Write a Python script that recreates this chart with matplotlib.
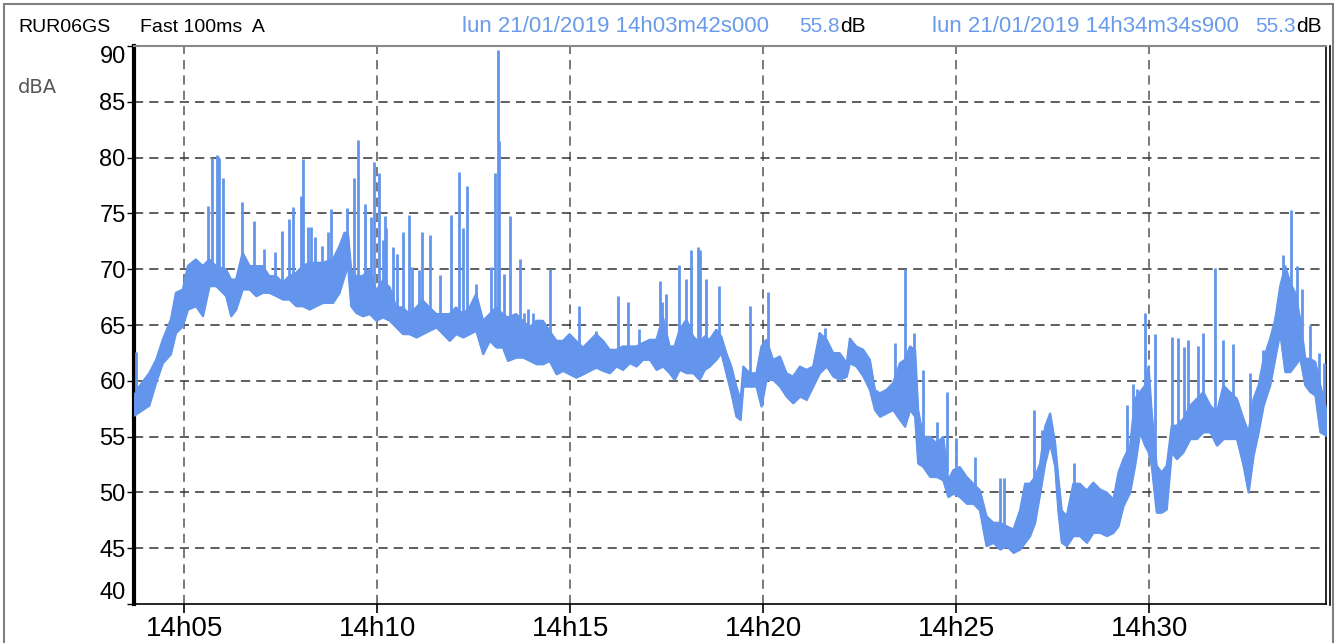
import numpy as np
import matplotlib
matplotlib.use("Agg")
import matplotlib.pyplot as plt
from matplotlib.lines import Line2D
from matplotlib.patches import Rectangle

# ---- data (minutes after 14h00, dBA) ----
t_env = [3.70, 3.83, 4.09, 4.27, 4.44, 4.65, 4.78, 4.96, 5.09, 5.30, 5.48, 5.65, 5.82, 6.08, 6.21, 6.34,
         6.51, 6.69, 6.86, 7.03, 7.20, 7.38, 7.55, 7.72, 7.90, 8.07, 8.24, 8.41, 8.59, 8.85, 9.02, 9.15,
         9.24, 9.32, 9.45, 9.62, 9.80, 9.97, 10.14, 10.32, 10.49, 10.66, 10.83, 11.01, 11.18, 11.35, 11.53,
         11.70, 11.87, 12.04, 12.22, 12.39, 12.56, 12.74, 12.91, 13.08, 13.25, 13.38, 13.60, 13.77, 13.95,
         14.12, 14.29, 14.46, 14.64, 14.81, 14.98, 15.15, 15.33, 15.50, 15.67, 15.85, 16.02, 16.19, 16.36,
         16.54, 16.71, 16.88, 17.06, 17.23, 17.40, 17.57, 17.70, 17.83, 18.01, 18.18, 18.35, 18.48, 18.61,
         18.78, 18.91, 19.04, 19.17, 19.30, 19.41, 19.48, 19.65, 19.82, 19.95, 20.08, 20.25, 20.43, 20.60,
         20.77, 20.95, 21.12, 21.29, 21.46, 21.64, 21.81, 21.98, 22.16, 22.24, 22.41, 22.59, 22.76, 22.89,
         23.02, 23.19, 23.36, 23.54, 23.67, 23.80, 23.93, 24.01, 24.14, 24.32, 24.49, 24.66, 24.79, 24.92,
         25.09, 25.27, 25.44, 25.61, 25.78, 25.96, 26.13, 26.30, 26.48, 26.65, 26.78, 26.91, 27.04, 27.17,
         27.30, 27.43, 27.56, 27.64, 27.73, 27.86, 28.03, 28.20, 28.38, 28.55, 28.72, 28.90, 29.07, 29.20,
         29.33, 29.50, 29.63, 29.76, 29.89, 29.98, 30.06, 30.19, 30.32, 30.45, 30.58, 30.71, 30.88, 31.06,
         31.23, 31.40, 31.58, 31.75, 31.92, 32.09, 32.27, 32.44, 32.57, 32.70, 32.83, 32.96, 33.13, 33.26,
         33.39, 33.52, 33.65, 33.78, 33.91, 34.04, 34.17, 34.30, 34.43, 34.58]
lo_env = [56.9, 57.2, 57.8, 59.9, 61.6, 62.4, 64.3, 64.9, 66.4, 66.7, 65.8, 68.5, 68.5, 67.6, 65.8, 66.4,
          68.2, 68.2, 67.6, 67.9, 67.9, 67.6, 67.3, 67.3, 66.7, 66.7, 66.4, 66.7, 67.0, 67.0, 67.9, 69.4,
          70.3, 66.7, 66.1, 65.8, 66.0, 65.4, 65.7, 65.4, 64.8, 64.2, 64.2, 63.9, 64.2, 64.5, 64.8,
          64.2, 63.6, 64.2, 63.9, 64.2, 64.5, 62.4, 63.6, 63.0, 63.0, 61.8, 62.1, 62.1, 61.8,
          61.5, 61.5, 61.8, 60.6, 60.9, 60.6, 60.3, 60.6, 60.9, 61.2, 60.9, 60.7, 61.3, 61.0,
          61.6, 61.3, 61.9, 61.9, 61.0, 61.3, 60.7, 60.1, 61.0, 60.7, 60.7, 60.1, 61.0, 61.3,
          61.9, 62.5, 60.7, 58.9, 56.8, 56.5, 59.5, 59.5, 59.5, 57.7, 60.1, 60.1, 59.5, 58.6,
          58.0, 58.6, 58.3, 59.5, 60.7, 61.3, 60.4, 60.1, 60.4, 61.6, 61.3, 60.4, 59.2, 57.4,
          56.8, 57.1, 57.4, 56.5, 55.9, 57.4, 56.8, 52.6, 52.3, 51.4, 51.4, 51.1, 49.6, 49.9,
          49.6, 49.0, 49.0, 48.4, 45.2, 45.5, 44.9, 45.2, 44.6, 44.9, 45.5, 46.1, 47.3, 49.9,
          52.6, 54.4, 52.3, 48.4, 45.5, 45.2, 46.1, 46.1, 45.5, 46.4, 46.4, 46.1, 46.4, 47.0,
          48.8, 50.0, 52.4, 55.4, 54.2, 53.6, 52.4, 48.2, 48.2, 48.5, 53.6, 53.0, 53.6, 54.8,
          54.8, 55.4, 55.4, 54.2, 54.8, 54.8, 54.8, 52.4, 50.0, 53.3, 55.4, 57.8, 59.6, 62.0,
          64.3, 60.8, 60.8, 61.4, 62.0, 59.6, 59.0, 58.7, 55.4, 55.1]
hi_env = [58.7, 59.5, 60.7, 61.9, 63.7, 65.5, 67.9, 68.2, 70.3, 70.9, 70.3, 70.9, 70.3, 70.0, 69.1, 69.1,
          71.5, 70.3, 70.3, 70.3, 69.4, 69.4, 68.8, 69.4, 69.7, 70.3, 70.6, 70.6, 70.6, 70.9, 72.1, 73.3,
          73.2, 70.0, 69.4, 69.4, 70.0, 68.1, 69.0, 68.4, 66.6, 66.6, 66.0, 66.6, 67.2, 66.6, 66.0,
          66.0, 66.0, 66.6, 66.0, 66.6, 67.8, 65.4, 66.0, 66.6, 66.0, 65.7, 66.0, 65.4, 64.8,
          65.4, 65.4, 64.5, 63.6, 63.6, 64.2, 63.6, 63.0, 63.6, 64.2, 63.6, 62.8, 62.8, 63.1,
          63.1, 63.1, 63.4, 63.7, 63.7, 65.7, 63.1, 63.1, 64.6, 65.5, 64.0, 63.4, 64.0, 63.7,
          64.6, 64.0, 62.5, 61.3, 59.5, 58.3, 61.3, 60.7, 60.7, 63.1, 63.7, 61.9, 62.2, 60.7,
          60.4, 61.3, 61.0, 61.3, 64.3, 63.7, 62.5, 62.5, 61.6, 63.8, 63.1, 62.8, 61.9, 59.2,
          58.9, 59.2, 59.8, 61.6, 61.9, 63.1, 62.8, 57.4, 55.0, 55.0, 54.4, 55.0, 51.1, 52.0,
          52.3, 51.4, 50.8, 50.2, 47.9, 47.3, 47.3, 47.0, 46.7, 48.4, 50.8, 50.8, 51.4, 52.6,
          55.9, 57.1, 54.4, 51.4, 48.4, 47.9, 50.8, 50.8, 50.2, 50.9, 50.3, 50.0, 49.4, 51.8,
          53.0, 54.2, 58.4, 59.0, 59.6, 61.3, 57.2, 52.4, 51.8, 52.4, 56.0, 56.0, 56.6, 57.8,
          58.4, 59.0, 57.8, 57.2, 59.6, 59.0, 58.4, 56.6, 55.4, 58.4, 59.6, 62.0, 63.8, 65.5,
          68.5, 70.3, 68.8, 67.9, 65.5, 62.0, 62.0, 61.7, 59.6, 57.5]

spike_t = [3.76, 5.63, 5.73, 5.84, 5.91, 6.01, 6.49, 6.81, 7.07, 7.34, 7.54, 7.71, 7.81, 8.03, 8.07,
           8.20, 8.28, 8.39, 8.57, 8.73, 8.81, 9.21, 9.41, 9.51, 9.68, 9.84, 9.93, 10.04, 10.16, 10.19,
           10.23, 10.40, 10.51, 10.68, 10.83, 10.89, 11.09, 11.15, 11.36, 11.63, 11.91, 12.11, 12.22,
           12.32, 12.55, 12.95, 13.06, 13.12, 13.15, 13.28, 13.43, 13.71, 13.80, 13.91, 14.03, 14.49,
           15.24, 15.67, 16.25, 16.51, 16.78, 17.32, 17.38, 17.47, 17.83, 18.01, 18.14, 18.32, 18.37,
           18.53, 18.85, 19.65, 20.12, 21.45, 21.61, 22.26, 23.41, 23.68, 23.90, 24.13, 24.51, 24.75,
           24.99, 25.49, 26.13, 26.24, 27.02, 27.23, 28.05, 29.42, 29.59, 29.68, 29.89, 30.15, 30.58,
           30.76, 30.91, 31.01, 31.27, 31.39, 31.71, 31.92, 32.18, 32.61, 32.94, 33.26, 33.48, 33.68,
           33.82, 33.95, 34.17, 34.39, 34.52]
spike_peak = [62.6, 75.7, 80.0, 80.2, 80.0, 78.2, 76.0, 74.3, 71.8, 71.5, 73.4, 74.5, 75.6, 76.6, 79.9,
              73.8, 73.8, 72.9, 72.1, 73.3, 75.4, 75.5, 78.2, 81.6, 75.8, 74.7, 79.6, 78.6, 72.6, 74.8,
              73.7, 72.0, 71.4, 73.3, 74.9, 70.2, 69.9, 73.3, 73.1, 69.5, 74.9, 78.7, 73.7,
              77.5, 68.7, 70.2, 78.6, 89.6, 81.5, 69.6, 74.8, 70.9, 66.1, 66.4, 66.1, 70.0,
              66.7, 64.5, 67.6, 67.1, 64.6, 68.9, 67.1, 67.8, 70.4, 69.1, 71.7, 72.0, 71.7,
              69.1, 68.5, 66.7, 68.0, 64.3, 64.7, 63.8, 63.4, 70.0, 64.3, 61.0, 56.3, 59.0,
              54.9, 53.2, 51.3, 51.3, 57.4, 55.6, 52.6, 57.8, 59.7, 59.3, 66.1, 64.2, 63.9,
              63.8, 63.0, 63.7, 63.1, 64.3, 70.1, 63.7, 63.3, 60.7, 62.8, 65.7, 71.3, 75.3,
              70.3, 68.2, 65.0, 62.5, 61.6]

x_ticks = [5, 10, 15, 20, 25, 30]
x_labels = ["14h05", "14h10", "14h15", "14h20", "14h25", "14h30"]
y_ticks = [40, 45, 50, 55, 60, 65, 70, 75, 80, 85, 90]
t_start, t_end = 3.70, 34.5817

# ---- figure ----
W, H = 1335, 643
fig = plt.figure(figsize=(W / 100, H / 100), dpi=100)
fig.patch.set_facecolor("white")

def fx(px):
    return px / W

def fy(py):
    return 1 - py / H

L, R, T, B = 134, 1326, 46, 604
ax = fig.add_axes([fx(L), fy(B), (R - L) / W, (B - T) / H])

blue = "#6495ED"
t_arr = np.array(t_env)
lo_arr = np.array(lo_env)
hi_arr = np.array(hi_env)
ax.fill_between(t_arr, lo_arr, hi_arr, color=blue, lw=1.2, zorder=3)
ax.plot(t_arr, hi_arr, color=blue, lw=1.2, zorder=3)
ax.plot(t_arr, lo_arr, color=blue, lw=1.2, zorder=3)
st = np.array(spike_t)
base = np.interp(st, t_arr, hi_arr) - 0.5
ax.vlines(st, base, spike_peak, color=blue, lw=2.0, zorder=3)

ax.set_xlim(t_start, t_end)
ax.set_ylim(40, 90)
ax.set_xticks(x_ticks)
ax.set_xticklabels(x_labels)
ax.set_yticks(y_ticks)
ax.set_yticklabels([str(v) for v in y_ticks])

for v in x_ticks:
    ax.axvline(v, color="#555555", lw=1.1, ls=(0, (6, 4)), zorder=1)
for v in y_ticks[1:-1]:
    ax.axhline(v, color="#333333", lw=1.1, ls=(0, (6, 4)), zorder=1)

ax.tick_params(axis="x", direction="out", length=6.5, width=1.2, color="black", pad=2,
               labelsize=20)
ax.tick_params(axis="y", direction="out", length=5, width=1.0, color="black", pad=1,
               labelsize=17)
for lab in ax.get_xticklabels():
    lab.set_family(["Liberation Sans Narrow", "Liberation Sans"])
for lab in ax.get_yticklabels():
    lab.set_family("Liberation Sans")
ylabs = ax.get_yticklabels()
ylabs[0].set_va("bottom")
ylabs[-1].set_va("top")

ax.spines["left"].set_linewidth(3.0)
ax.spines["left"].set_color("black")
ax.spines["bottom"].set_linewidth(1.2)
ax.spines["bottom"].set_color("black")
ax.spines["right"].set_linewidth(1.2)
ax.spines["right"].set_color("black")
ax.spines["top"].set_linewidth(1.5)
ax.spines["top"].set_color("#888888")

# second right border line
fig.add_artist(Line2D([fx(1329.5), fx(1329.5)], [fy(T), fy(B + 1)], color="black", lw=1.2))
# outer frame
fig.add_artist(Rectangle((fx(4), -0.05), fx(1333) - fx(4), fy(4) + 0.05, transform=fig.transFigure,
                         fill=False, edgecolor="#808080", lw=1.5))

# header texts
hdr_font = "Liberation Sans"
fig.text(fx(18), fy(32), "RUR06GS", fontsize=14, family=hdr_font, color="black", va="baseline")
fig.text(fx(140), fy(32), "Fast 100ms  A", fontsize=14, family=hdr_font, color="black", va="baseline")
lblue = "#6A9BEA"
fig.text(fx(462), fy(32), "lun 21/01/2019 14h03m42s000", fontsize=16, family=hdr_font, color=lblue,
         va="baseline")
fig.text(fx(840), fy(32), "55.8", fontsize=15, family=hdr_font, color=lblue, va="baseline", ha="right")
fig.text(fx(840), fy(32), "dB", fontsize=15, family=hdr_font, color="black", va="baseline")
fig.text(fx(932), fy(32), "lun 21/01/2019 14h34m34s900", fontsize=16, family=hdr_font, color=lblue,
         va="baseline")
fig.text(fx(1296), fy(32), "55.3", fontsize=15, family=hdr_font, color=lblue, va="baseline", ha="right")
fig.text(fx(1296), fy(32), "dB", fontsize=15, family=hdr_font, color="black", va="baseline")

fig.text(fx(18), fy(93), "dBA", fontsize=14, family="DejaVu Sans", color="#555555", va="baseline")

fig.savefig("out.png", dpi=100)
